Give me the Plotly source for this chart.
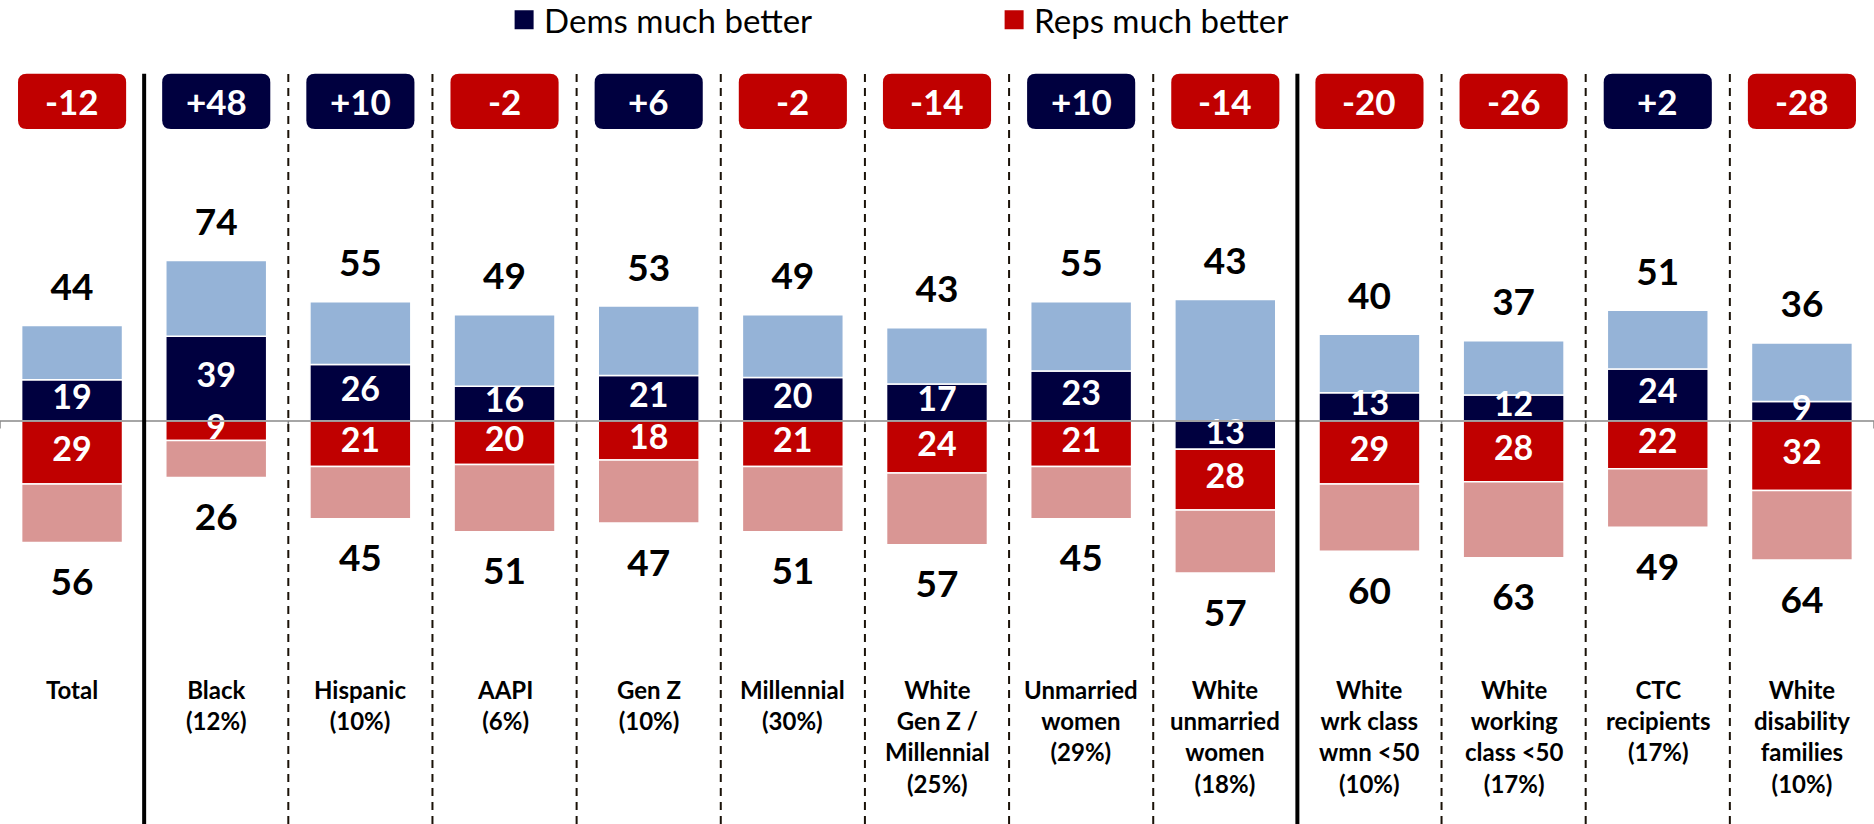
import plotly.graph_objects as go

categories = ["Total", "Black<br>(12%)", "Hispanic<br>(10%)", "AAPI<br>(6%)", "Gen Z<br>(10%)",
              "Millennial<br>(30%)", "White<br>Gen Z /<br>Millennial<br>(25%)", "Unmarried<br>women<br>(29%)",
              "White<br>unmarried<br>women<br>(18%)", "White<br>wrk class<br>wmn &lt;50<br>(10%)",
              "White<br>working<br>class &lt;50<br>(17%)", "CTC<br>recipients<br>(17%)",
              "White<br>disability<br>families<br>(10%)"]
dem_much = [19, 39, 26, 16, 21, 20, 17, 23, -13, 13, 12, 24, 9]
dem_total = [44, 74, 55, 49, 53, 49, 43, 55, 43, 40, 37, 51, 36]
rep_much = [29, 9, 21, 20, 18, 21, 24, 21, 28, 29, 28, 22, 32]
rep_total = [56, 26, 45, 51, 47, 51, 57, 45, 57, 60, 63, 49, 64]
net = [-12, 48, 10, -2, 6, -2, -14, 10, -14, -20, -26, 2, -28]

NAVY = "#00003F"
RED = "#C00000"
LBLUE = "#95B3D7"
LRED = "#D99694"
FONT = "Lato"

n = len(categories)
xs = list(range(n))
light_blue = [t - d for t, d in zip(dem_total, dem_much)]
light_red = [-(t - r) for t, r in zip(rep_total, rep_much)]

fig = go.Figure()
bar_kw = dict(width=0.70, marker_line_color="white", marker_line_width=1.5, hoverinfo="skip", showlegend=False)
fig.add_trace(go.Bar(x=xs, y=dem_much, marker_color=NAVY, **bar_kw))
fig.add_trace(go.Bar(x=xs, y=light_blue, marker_color=LBLUE, **bar_kw))
fig.add_trace(go.Bar(x=xs, y=[-r for r in rep_much], marker_color=RED, **bar_kw))
fig.add_trace(go.Bar(x=xs, y=light_red, marker_color=LRED, **bar_kw))

# legend entries
fig.add_trace(go.Scatter(x=[None], y=[None], mode="markers", name="Dems much better",
                         marker=dict(symbol="square", size=22, color=NAVY,
                                     line=dict(color=NAVY, width=3))))
fig.add_trace(go.Scatter(x=[None], y=[None], mode="markers", name="Reps much better",
                         marker=dict(symbol="square", size=22, color=RED,
                                     line=dict(color=RED, width=3))))

# inner labels
dem_centers = [d / 2 for d in dem_much]
rep_centers = [min(d, 0) - r / 2 for d, r in zip(dem_much, rep_much)]
inner_font = dict(family=FONT, size=34, color="white", weight="bold")
fig.add_trace(go.Scatter(x=xs, y=dem_centers, mode="text", text=[str(abs(d)) for d in dem_much],
                         textfont=inner_font, showlegend=False, hoverinfo="skip"))
fig.add_trace(go.Scatter(x=xs, y=rep_centers, mode="text", text=[str(r) for r in rep_much],
                         textfont=inner_font, showlegend=False, hoverinfo="skip"))

# total labels
tops = [t - min(d, 0) for t, d in zip(dem_total, dem_much)]
bottoms = [-(t + max(-d, 0)) for t, d in zip(rep_total, dem_much)]
outer_font = dict(family=FONT, size=37, color="black", weight="bold")
fig.add_trace(go.Scatter(x=xs, y=[t + 16 for t in tops], mode="text", text=[str(v) for v in dem_total],
                         textfont=outer_font, showlegend=False, hoverinfo="skip"))
fig.add_trace(go.Scatter(x=xs, y=[b - 20 for b in bottoms], mode="text", text=[str(v) for v in rep_total],
                         textfont=outer_font, showlegend=False, hoverinfo="skip"))

YMAX = 194.0
YMIN = -185.7
shapes = []
# zero line
shapes.append(dict(type="line", xref="paper", x0=0, x1=1, yref="y", y0=0, y1=0,
                   line=dict(color="#888888", width=1.5), layer="above"))
# small ticks
for k in range(n + 1):
    shapes.append(dict(type="line", x0=k - 0.5, x1=k - 0.5, y0=0, y1=-3.5,
                       line=dict(color="#888888", width=1.5), layer="above"))
# dividers
for k in range(n - 1):
    xb = k + 0.5
    if k in (0, 8):
        shapes.append(dict(type="line", x0=xb, x1=xb, y0=YMIN, y1=160,
                           line=dict(color="black", width=4), layer="above"))
    else:
        shapes.append(dict(type="line", x0=xb, x1=xb, y0=YMIN, y1=160,
                           line=dict(color="#1a1208", width=2, dash="8px,6px"), layer="above"))

# badges
bw = 0.375
by0, by1 = 134.6, 160.0
rx, ry = 0.06, 4.0
annotations = []
for i, v in enumerate(net):
    x0, x1 = i - bw, i + bw
    path = (f"M {x0+rx},{by0} L {x1-rx},{by0} Q {x1},{by0} {x1},{by0+ry} "
            f"L {x1},{by1-ry} Q {x1},{by1} {x1-rx},{by1} L {x0+rx},{by1} "
            f"Q {x0},{by1} {x0},{by1-ry} L {x0},{by0+ry} Q {x0},{by0} {x0+rx},{by0} Z")
    col = NAVY if v > 0 else RED
    shapes.append(dict(type="path", path=path, fillcolor=col, line=dict(width=0), layer="above"))
    annotations.append(dict(x=i, y=(by0 + by1) / 2, text=f"{v:+d}", showarrow=False,
                            font=dict(family=FONT, size=35, color="white", weight="bold")))

# category labels
for i, c in enumerate(categories):
    annotations.append(dict(x=i, y=-116, yanchor="top", text=c, showarrow=False,
                            font=dict(family=FONT, size=24, color="black", weight="bold"),
                            align="center"))

fig.update_layout(
    width=1874, height=824,
    margin=dict(l=0, r=0, t=0, b=0, autoexpand=False),
    barmode="relative",
    bargap=0.3,
    plot_bgcolor="white", paper_bgcolor="white",
    xaxis=dict(range=[-0.5, n - 0.5], showgrid=False, zeroline=False, showticklabels=False,
               fixedrange=True),
    yaxis=dict(range=[YMIN, YMAX], showgrid=False, zeroline=False, showticklabels=False,
               fixedrange=True),
    shapes=shapes,
    annotations=annotations,
    showlegend=True,
    legend=dict(orientation="h", x=0.269, xanchor="left", y=0.976, yanchor="middle",
                entrywidth=445, entrywidthmode="pixels", bgcolor="rgba(0,0,0,0)",
                font=dict(family=FONT, size=33, color="black"), itemsizing="trace"),
)

fig.write_html("out.html", config={"displayModeBar": False},
               post_script="document.body.style.margin='0px';")
